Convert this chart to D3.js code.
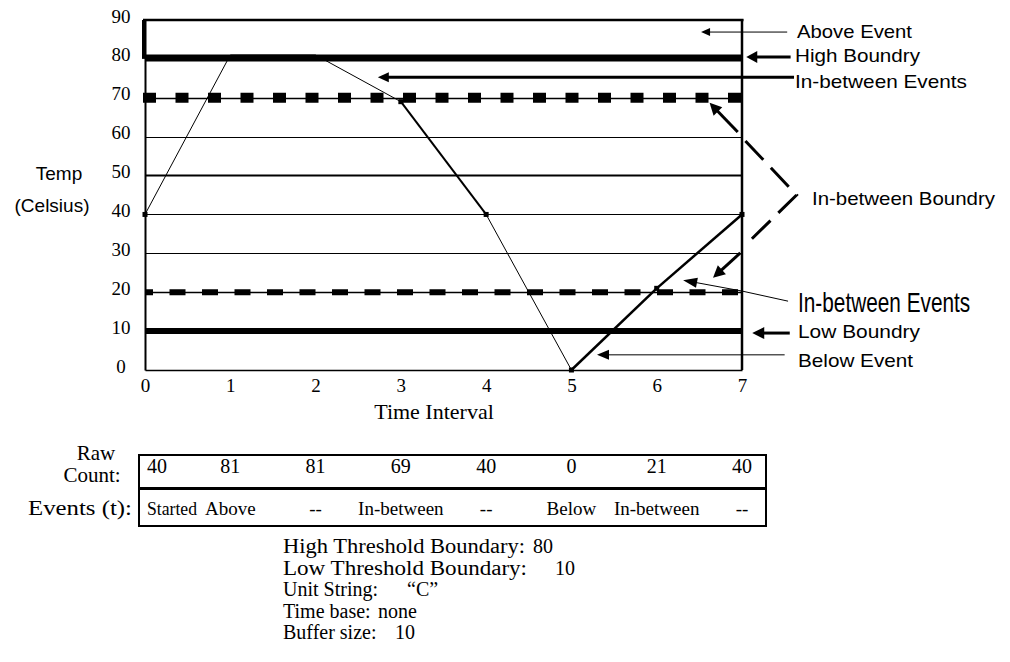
<!DOCTYPE html>
<html>
<head>
<meta charset="utf-8">
<script src="https://cdn.jsdelivr.net/npm/d3@7"></script>
<style>
  body { margin: 0; background: #fff; }
  svg { display: block; }
  .serif { font-family: "Liberation Serif", "Times New Roman", serif; }
  .sans { font-family: "Liberation Sans", Arial, sans-serif; }
</style>
</head>
<body>
<div id="chart"></div>
<script>
// ---- data ----
var times = [0, 1, 2, 3, 4, 5, 6, 7];
var rawCounts = [40, 81, 81, 69, 40, 0, 21, 40];
var events = ["Started", "Above", "--", "In-between", "--", "Below", "In-between", "--"];
var yTicks = [0, 10, 20, 30, 40, 50, 60, 70, 80, 90];
var boundaries = [80, 10];          // high, low
var betweenLevels = [70, 20];       // in-between boundaries
var gridLevels = [60, 50, 40, 30];
var settings = [
  ["High Threshold Boundary:", "80"],
  ["Low Threshold Boundary:", "10"],
  ["Unit String:", "\u201CC\u201D"],
  ["Time base:", "none"],
  ["Buffer size:", "10"]
];

var width = 1010, height = 662;

var svg = d3.select("#chart").append("svg")
  .attr("width", width)
  .attr("height", height);

var x = d3.scaleLinear().domain([0, 7]).range([145, 742]);
var y = d3.scaleLinear().domain([0, 90]).range([370, 20]);

// crisp 1px horizontal lines
function py(v) { return Math.round(y(v)) + 0.5; }

function text(g, str, tx, ty, cls, size, len, anchor) {
  var t = g.append("text")
    .attr("class", cls)
    .attr("x", tx)
    .attr("y", ty)
    .attr("font-size", size)
    .attr("text-anchor", anchor || "start")
    .text(str);
  if (len) t.attr("textLength", len).attr("lengthAdjust", "spacingAndGlyphs");
  return t;
}

var line = d3.line()
  .x(function(p) { return x(p[0]); })
  .y(function(p) { return y(p[1]); });

// line ending in a filled arrow head, points given in data units
function arrow(g, pts, w, head, dash) {
  var n = pts.length;
  var px = pts.map(function(p) { return [x(p[0]), y(p[1])]; });
  if (head) {
    var a = px[n - 2], b = px[n - 1];
    var ang = Math.atan2(b[1] - a[1], b[0] - a[0]);
    var bx = b[0] - head[0] * Math.cos(ang), by = b[1] - head[0] * Math.sin(ang);
    var ox = -Math.sin(ang) * head[1], oy = Math.cos(ang) * head[1];
    g.append("path")
      .attr("d", "M" + b[0] + "," + b[1] + "L" + (bx + ox) + "," + (by + oy) +
        "L" + (bx - ox) + "," + (by - oy) + "Z")
      .attr("fill", "#000");
    px[n - 1] = [bx + Math.cos(ang), by + Math.sin(ang)];
  }
  g.append("path")
    .attr("d", d3.line()(px))
    .attr("fill", "none")
    .attr("stroke", "#000")
    .attr("stroke-width", w)
    .attr("stroke-dasharray", dash || null);
}

var plot = svg.append("g");

// plain grid lines
plot.selectAll("line.grid")
  .data(gridLevels)
  .enter()
  .append("line")
  .attr("class", "grid")
  .attr("x1", x(0)).attr("x2", x(7))
  .attr("y1", function(d) { return d == 50 ? y(d) : py(d); })
  .attr("y2", function(d) { return d == 50 ? y(d) : py(d); })
  .attr("stroke", "#000")
  .attr("stroke-width", function(d) { return d == 50 ? 2 : 1; });

// in-between boundaries: thin line + heavy dashes
var between = plot.selectAll("g.between")
  .data(betweenLevels)
  .enter()
  .append("g")
  .attr("class", "between");

between.append("line")
  .attr("x1", x(0)).attr("x2", x(7))
  .attr("y1", function(d) { return py(d); })
  .attr("y2", function(d) { return py(d); })
  .attr("stroke", "#000")
  .attr("stroke-width", 1.5);

between.append("line")
  .attr("x1", function(d, i) { return i == 0 ? x(0) - 2 : x(0); })
  .attr("x2", x(7))
  .attr("y1", function(d) { return y(d); })
  .attr("y2", function(d) { return y(d); })
  .attr("stroke", "#000")
  .attr("stroke-width", function(d, i) { return i == 0 ? 10 : 6; })
  .attr("stroke-dasharray", function(d, i) { return i == 0 ? "13,19.5" : "16,16.5"; })
  .attr("stroke-dashoffset", function(d, i) { return i == 0 ? 0 : 8; });

// data line, drawn one segment at a time (under the boundary bands)
var pts = times.map(function(t, i) { return [t, rawCounts[i]]; });
svg.selectAll("path.seg")
  .data(d3.pairs(pts))
  .enter()
  .append("path")
  .attr("class", "seg")
  .attr("d", line)
  .attr("fill", "none")
  .attr("stroke", "#000")
  .attr("stroke-width", function(d, i) { return i >= 5 ? 2.5 : (i == 3 ? 2 : 1); });

svg.selectAll("rect.pt")
  .data(pts.filter(function(p) { return p[1] < boundaries[0]; }))
  .enter()
  .append("rect")
  .attr("class", "pt")
  .attr("x", function(p) { return x(p[0]) - 2.5; })
  .attr("y", function(p) { return y(p[1]) - 2.5; })
  .attr("width", 5)
  .attr("height", 5)
  .attr("fill", "#000");

// high / low boundaries
svg.selectAll("line.boundary")
  .data(boundaries)
  .enter()
  .append("line")
  .attr("class", "boundary")
  .attr("x1", x(0)).attr("x2", x(7))
  .attr("y1", function(d, i) { return i == 0 ? y(d) - 1 : y(d); })
  .attr("y2", function(d, i) { return i == 0 ? y(d) - 1 : y(d); })
  .attr("stroke", "#000")
  .attr("stroke-width", function(d, i) { return i == 0 ? 7 : 6; });

// axes
var yAxis = d3.axisLeft(y).tickValues(yTicks).tickSize(0).tickSizeOuter(0).tickPadding(24);
var gy = svg.append("g").attr("transform", "translate(" + x(0) + ",0)").call(yAxis);
gy.attr("font-family", null);
gy.select(".domain").attr("stroke-width", 2);
gy.selectAll("text")
  .attr("class", "serif")
  .attr("font-size", 19)
  .attr("text-anchor", "middle")
  .attr("y", -4)
  .attr("fill", "#000");

var xAxis = d3.axisBottom(x).tickValues(times).tickFormat(d3.format("d"))
  .tickSize(0).tickSizeOuter(0).tickPadding(9);
var gx = svg.append("g").attr("transform", "translate(0," + y(0) + ")").call(xAxis);
gx.attr("font-family", null);
gx.select(".domain").attr("stroke-width", 1.5);
gx.selectAll("text")
  .attr("class", "serif")
  .attr("font-size", 19)
  .attr("fill", "#000");

// frame: top, heavy left edge of the "above" band, right edge
svg.append("line")
  .attr("x1", x(0) - 2).attr("x2", x(7) + 1.5)
  .attr("y1", y(90)).attr("y2", y(90))
  .attr("stroke", "#000").attr("stroke-width", 2.5);
svg.append("line")
  .attr("x1", x(0) - 1).attr("x2", x(0) - 1)
  .attr("y1", y(90)).attr("y2", y(80))
  .attr("stroke", "#000").attr("stroke-width", 4);
svg.append("line")
  .attr("x1", x(7)).attr("x2", x(7))
  .attr("y1", y(90) - 1).attr("y2", y(0))
  .attr("stroke", "#000").attr("stroke-width", 2.5);

// axis titles
text(svg, "Temp", 59, 180, "sans", 19, null, "middle");
text(svg, "(Celsius)", 52, 212, "sans", 19, null, "middle");
text(svg, "Time Interval", 434, 419, "serif", 22, null, "middle");

// annotations on the right
var notes = [
  { label: "Above Event", tx: 797, ty: 38, len: 115, size: 19,
    path: [[7.53, 86.9], [6.52, 86.9]], w: 1, head: [9, 4] },
  { label: "High Boundry", tx: 795, ty: 62, len: 125, size: 19,
    path: [[7.57, 80.5], [7.05, 80.5]], w: 3, head: [11, 6] },
  { label: "In-between Events", tx: 795, ty: 88, len: 172, size: 19,
    path: [[7.61, 75.3], [2.73, 75.3]], w: 3, head: [11, 5] },
  { label: "In-between Boundry", tx: 812, ty: 205, len: 183, size: 19 },
  { label: "In-between Events", tx: 798, ty: 312, size: 20, stretch: [1.04, 1.4],
    path: [[7.54, 17.7], [7.0, 20.3], [6.31, 23.1]], w: 1, head: [14, 5] },
  { label: "Low Boundry", tx: 798, ty: 338, len: 122, size: 19,
    path: [[7.56, 9.5], [7.12, 9.5]], w: 3, head: [12, 6] },
  { label: "Below Event", tx: 798, ty: 367, len: 115, size: 19,
    path: [[7.5, 3.9], [5.3, 3.9]], w: 1, head: [12, 5] }
];

var ann = svg.append("g");
notes.forEach(function(n) {
  if (n.stretch) {
    // the lower label is drawn taller than the others
    var sg = ann.append("g")
      .attr("transform", "translate(" + n.tx + "," + n.ty + ") scale(" + n.stretch[0] + "," + n.stretch[1] + ")");
    text(sg, n.label, 0, 0, "sans", n.size);
  } else {
    text(ann, n.label, n.tx, n.ty, "sans", n.size, n.len);
  }
  if (n.path) arrow(ann, n.path, n.w, n.head);
});

// brace pointing at both in-between boundaries
arrow(ann, [[6.95, 61.2], [6.62, 68.7]], 3, [12, 6]);
arrow(ann, [[6.98, 30.1], [6.66, 23.7]], 3, [12, 6]);
arrow(ann, [[7.04, 58.9], [7.64, 45], [7.04, 32.1]], 3, null, "26,11");

// table of raw counts and events
var table = svg.append("g");
table.append("rect")
  .attr("x", 139).attr("y", 455).attr("width", 627).attr("height", 33)
  .attr("fill", "none").attr("stroke", "#000").attr("stroke-width", 2);
table.append("rect")
  .attr("x", 139).attr("y", 489).attr("width", 627).attr("height", 37)
  .attr("fill", "none").attr("stroke", "#000").attr("stroke-width", 2);

text(table, "Raw", 96, 460, "serif", 21, null, "middle");
text(table, "Count:", 92, 482, "serif", 21, null, "middle");
text(table, "Events (t):", 28, 515, "serif", 21, 104);

table.selectAll("text.raw")
  .data(rawCounts)
  .enter()
  .append("text")
  .attr("class", "serif raw")
  .attr("x", function(d, i) { return i == 0 ? x(times[i]) + 2 : x(times[i]); })
  .attr("y", 473)
  .attr("font-size", 20)
  .attr("text-anchor", function(d, i) { return i == 0 ? "start" : "middle"; })
  .text(function(d) { return d; });

table.selectAll("text.event")
  .data(events)
  .enter()
  .append("text")
  .attr("class", "serif event")
  .attr("x", function(d, i) { return i == 0 ? x(times[i]) + 2 : x(times[i]); })
  .attr("y", 515)
  .attr("font-size", 19)
  .attr("text-anchor", function(d, i) { return i == 0 ? "start" : "middle"; })
  .text(function(d) { return d; })
  .each(function(d, i) {
    // first cell is squeezed so it clears its neighbour
    if (i == 0) d3.select(this).attr("textLength", 50).attr("lengthAdjust", "spacingAndGlyphs");
  });

// settings list below the table
var valueX = [533, 555, 407, 378, 395];
var labelLen = [242, 244, null, null, null];
var info = svg.append("g");
settings.forEach(function(s, i) {
  var by = 553 + i * 21.5;
  var lab = text(info, s[0], 283, by, "serif", 20, labelLen[i]);
  var end = 283 + (labelLen[i] || lab.node().getComputedTextLength());
  text(info, s[1], Math.max(valueX[i], end + 7), by, "serif", 20);
});
</script>
</body>
</html>
